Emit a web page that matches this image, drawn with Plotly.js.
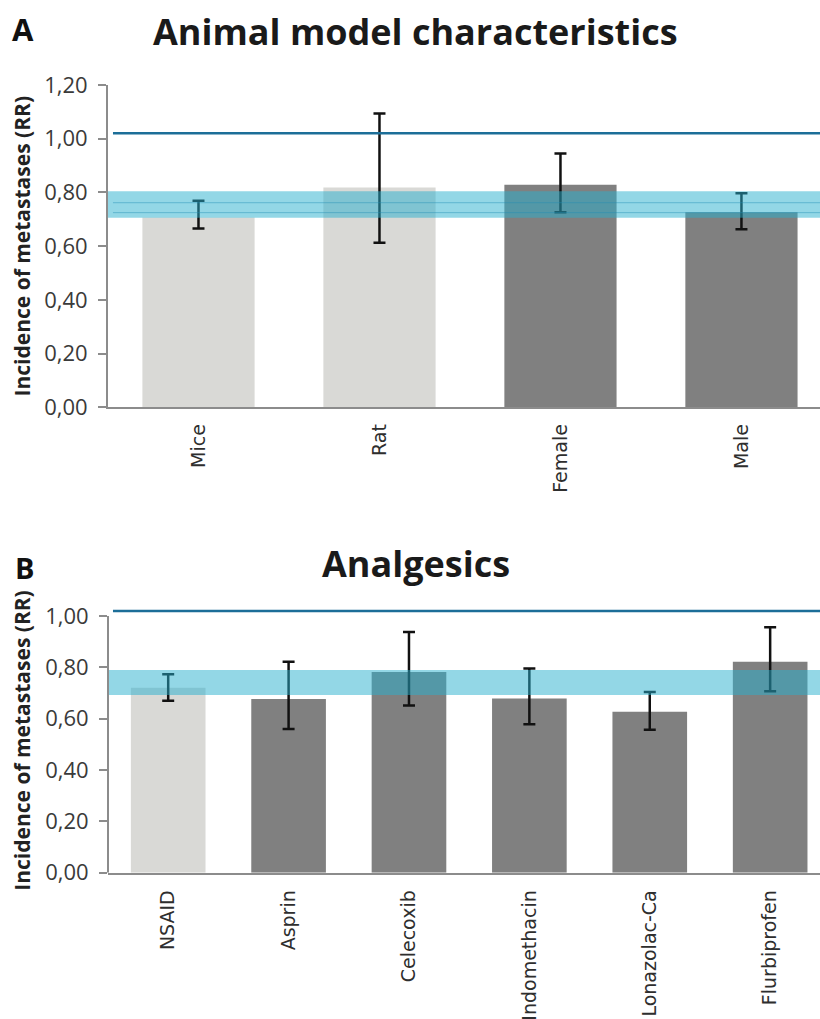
<!DOCTYPE html>
<html>
<head>
<meta charset="utf-8">
<script src="https://cdn.plot.ly/plotly-3.0.1.min.js"></script>
<style>
  html, body { margin: 0; padding: 0; background: #fff; }
  #chart { width: 820px; height: 1019px; }
</style>
</head>
<body>
<div id="chart"></div>
<script>
// ---------- Data: panel A (Animal model characteristics) ----------
const catsA  = ['Mice', 'Rat', 'Female', 'Male'];
const groupA = ['species', 'species', 'sex', 'sex'];
const rrA    = [0.707, 0.819, 0.829, 0.726];
const loA    = [0.666, 0.613, 0.726, 0.663];
const hiA    = [0.769, 1.094, 0.945, 0.797];
const refLineA = 1.02;
const bandA    = [0.706, 0.805];
const bandLinesA = [0.725, 0.762];

// ---------- Data: panel B (Analgesics) ----------
const catsB  = ['NSAID', 'Asprin', 'Celecoxib', 'Indomethacin', 'Lonazolac-Ca', 'Flurbiprofen'];
const groupB = ['overall', 'drug', 'drug', 'drug', 'drug', 'drug'];
const rrB    = [0.721, 0.677, 0.782, 0.679, 0.627, 0.822];
const loB    = [0.670, 0.560, 0.651, 0.578, 0.557, 0.707];
const hiB    = [0.773, 0.822, 0.938, 0.796, 0.704, 0.956];
const refLineB = 1.02;
const bandB    = [0.692, 0.790];

const yTicks = [0, 0.2, 0.4, 0.6, 0.8, 1.0, 1.2];

// ---------- Styles ----------
const LIGHT = '#d9d9d6', DARK = '#808080';
const colorFor = g => (g === 'species' || g === 'overall') ? LIGHT : DARK;
const AXIS = '#8c8c8c';
const BAND = 'rgba(40,175,205,0.5)';
const LINE = '#1c6e98';
const FONT = 'Open Sans, Lato, sans-serif';

function barTrace(cats, vals, lo, hi, groups, xa, ya) {
  return {
    type: 'bar', x: cats, y: vals, xaxis: xa, yaxis: ya,
    marker: { color: groups.map(colorFor), line: { width: 0 } },
    error_y: {
      type: 'data', symmetric: false,
      array: hi.map((h, i) => h - vals[i]),
      arrayminus: lo.map((l, i) => vals[i] - l),
      color: '#111', thickness: 2.5, width: 6
    },
    hoverinfo: 'x+y', showlegend: false
  };
}

const traces = [
  barTrace(catsA, rrA, loA, hiA, groupA, 'x', 'y'),
  barTrace(catsB, rrB, loB, hiB, groupB, 'x2', 'y2')
];

const tickFont = { family: FONT, size: 22, color: '#3a3a3a' };
const catFont  = { family: 'DejaVu Sans, sans-serif', size: 19, color: '#2e2e2e' };
const yTitle = txt => ({ text: txt, font: { family: FONT, size: 21, color: '#222', weight: 'bold' }, standoff: 8 });

function band(xd, yr, b) {
  return { type: 'rect', xref: xd, yref: yr, x0: 0, x1: 1, y0: b[0], y1: b[1],
           fillcolor: BAND, line: { width: 0 }, layer: 'above' };
}
function hline(xd, yr, v, color, w) {
  return { type: 'line', xref: xd, yref: yr, x0: 0.007, x1: 1, y0: v, y1: v,
           line: { color: color, width: w }, layer: 'above' };
}

const shapes = [
  hline('x domain', 'y', refLineA, LINE, 2.5),
  band('x domain', 'y', bandA),
  ...bandLinesA.map(v => hline('x domain', 'y', v, 'rgba(30,140,180,0.45)', 1)),
  hline('x2 domain', 'y2', refLineB, LINE, 2.5),
  band('x2 domain', 'y2', bandB),
  // y axis line of panel B (stops at the top tick)
  { type: 'line', xref: 'x2 domain', yref: 'y2', x0: 0, x1: 0, y0: 0, y1: yTicks[5],
    line: { color: AXIS, width: 2 }, layer: 'above' }
];

const layout = {
  width: 820, height: 1019,
  margin: { l: 108, r: 0, t: 0, b: 0 },
  paper_bgcolor: '#fff', plot_bgcolor: '#fff',
  separators: ', ',
  bargap: 0.38,
  showlegend: false,
  xaxis: {
    type: 'category', domain: [0, 1], anchor: 'y', range: [-0.5, 3.434],
    showline: true, linecolor: AXIS, linewidth: 2, ticks: '',
    tickangle: -90, tickfont: catFont, ticklabelstandoff: 7,
    showgrid: false, zeroline: false, fixedrange: true
  },
  yaxis: {
    domain: [0.6001, 0.9166], anchor: 'x', range: [0, 1.2],
    tickvals: yTicks, tickformat: '.2f', tickfont: tickFont,
    showline: true, linecolor: AXIS, linewidth: 2,
    ticks: 'outside', ticklen: 8, tickwidth: 2, tickcolor: AXIS, ticklabelstandoff: 6,
    showgrid: false, zeroline: false,
    title: yTitle('Incidence of metastases (RR)')
  },
  xaxis2: {
    type: 'category', domain: [0, 1], anchor: 'y2', range: [-0.5, 5.414],
    showline: true, linecolor: AXIS, linewidth: 2, ticks: '',
    tickangle: -90, tickfont: catFont, ticklabelstandoff: 8,
    showgrid: false, zeroline: false
  },
  yaxis2: {
    domain: [0.1436, 0.403], anchor: 'x2', range: [0, 1.03],
    tickvals: yTicks.slice(0, 6), tickformat: '.2f', tickfont: tickFont,
    showline: false,
    ticks: 'outside', ticklen: 8, tickwidth: 2, tickcolor: AXIS, ticklabelstandoff: 6,
    showgrid: false, zeroline: false,
    title: yTitle('Incidence of metastases (RR)')
  },
  shapes: shapes,
  annotations: [
    { text: '<b>A</b>', xref: 'paper', yref: 'paper', x: -0.137, y: 0.994, xanchor: 'left', yanchor: 'top',
      showarrow: false, font: { family: FONT, size: 31, color: '#111' } },
    { text: '<b>Animal model characteristics</b>', xref: 'paper', yref: 'paper', x: 0.432, y: 0.995,
      xanchor: 'center', yanchor: 'top', showarrow: false, font: { family: FONT, size: 36, color: '#1a1a1a' } },
    { text: '<b>B</b>', xref: 'paper', yref: 'paper', x: -0.134, y: 0.4645, xanchor: 'left', yanchor: 'top',
      showarrow: false, font: { family: FONT, size: 29, color: '#111' } },
    { text: '<b>Analgesics</b>', xref: 'paper', yref: 'paper', x: 0.432, y: 0.4735,
      xanchor: 'center', yanchor: 'top', showarrow: false, font: { family: FONT, size: 36, color: '#1a1a1a' } }
  ]
};

Plotly.newPlot('chart', traces, layout, { staticPlot: true, displayModeBar: false });
</script>
</body>
</html>
